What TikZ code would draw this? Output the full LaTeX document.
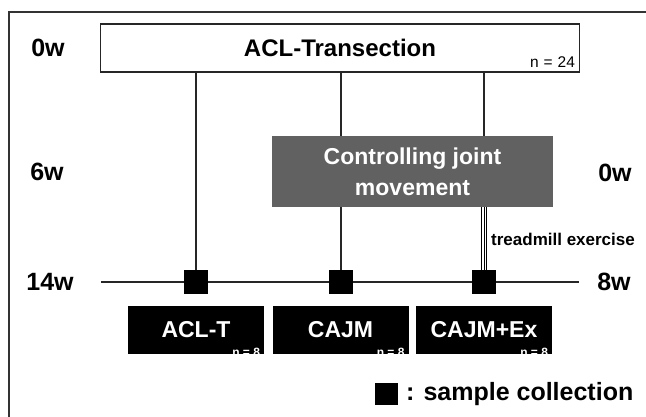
\documentclass[tikz,border=0pt]{standalone}
\usepackage{fontspec}
\setmainfont{Liberation Sans}
\begin{document}
\begin{tikzpicture}[x=1pt,y=-1pt,
  big/.style={font=\fontsize{25}{25}\selectfont\bfseries, inner sep=0pt},
  grp/.style={fill=black, text=white, minimum width=136pt, minimum height=48pt, inner sep=0pt, font=\fontsize{23}{23}\selectfont\bfseries},
  nsmall/.style={text=white, font=\fontsize{12}{12}\selectfont\bfseries, inner sep=0pt, anchor=south east},
  sq/.style={fill=black, minimum width=24pt, minimum height=24pt, inner sep=0pt},
  conn/.style={line width=1.3pt, black!85},
]
\clip (0,0) rectangle (646,416);
\fill[white] (0,0) rectangle (646,416);
% frame
\draw[line width=2pt, black!80] (9,12) rectangle (700,460);

% top box
\node[draw, line width=1.3pt, black!85, text=black, minimum width=479pt, minimum height=48pt, inner sep=0pt,
      font=\fontsize{24}{24}\selectfont\bfseries] (acl) at (340,48) {ACL-Transection};
\node[anchor=south east, inner sep=0pt, font=\fontsize{15.5}{15.5}\selectfont] (n24) at ([xshift=-5pt,yshift=5pt]acl.south east) {n\hspace{5pt}=\hspace{5pt}24};

% time labels
\node[big] (l0) at (48,48) {0w};
\node[big] (l6) at (47,172) {6w};
\node[big] (l14) at (50,282) {14w};
\node[big] (r0) at (615,173) {0w};
\node[big] (r8) at (614,282) {8w};

% timeline
\coordinate (tl) at (101,282);
\coordinate (tr) at (579,282);
\draw[conn] (tl) -- (tr);

% squares
\node[sq] (s1) at (196,282) {};
\node[sq] (s2) at (341,282) {};
\node[sq] (s3) at (484,282) {};

% vertical connectors
\draw[conn] (s1 |- acl.south) -- (s1.north);
\draw[conn] (s2 |- acl.south) -- (s2.north);

% control box
\node[fill=black!62, text=white, minimum width=281pt, minimum height=71pt, inner sep=0pt, align=center,
      font=\fontsize{23}{31}\selectfont\bfseries] (ctrl) at (412.5,171.5) {Controlling joint\\movement};

\draw[conn] (s3 |- acl.south) -- (s3 |- ctrl.north);
\foreach \dx in {-2.7,0,2.7}
  \draw[line width=0.9pt, black] ([xshift=\dx pt]s3 |- ctrl.south) -- ([xshift=\dx pt]s3.north);
\node[anchor=west, inner sep=0pt, font=\fontsize{17}{17}\selectfont\bfseries] (tread) at (491,239) {treadmill exercise};

% group boxes
\node[grp] (g1) at (196,330) {ACL-T};
\node[grp] (g2) at (340.5,330) {CAJM};
\node[grp] (g3) at (484,330) {CAJM+Ex};
\node[nsmall] (n1) at ([xshift=-4pt,yshift=-3pt]g1.south east) {n = 8};
\node[nsmall] (n2) at ([xshift=-4pt,yshift=-3pt]g2.south east) {n = 8};
\node[nsmall] (n3) at ([xshift=-4pt,yshift=-3pt]g3.south east) {n = 8};

% legend
\node[fill=black, minimum width=23pt, minimum height=22pt, inner sep=0pt] (leg) at (386.5,394) {};
\node[anchor=west, inner sep=0pt, font=\fontsize{25}{25}\selectfont\bfseries] (legt) at (406,394) {:\hspace{9pt}sample collection};
\end{tikzpicture}
\end{document}
